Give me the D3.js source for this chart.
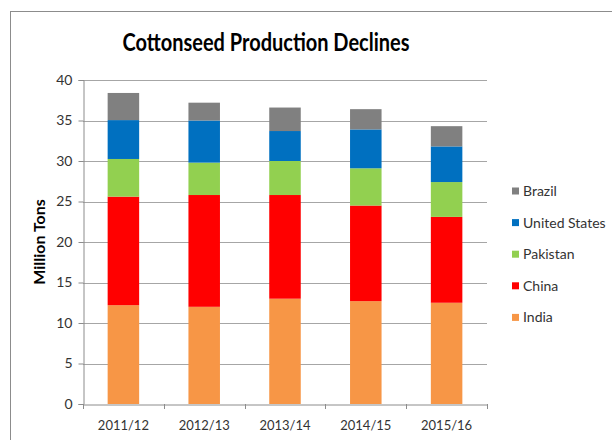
<!DOCTYPE html>
<html><head><meta charset="utf-8">
<script src="https://cdn.jsdelivr.net/npm/d3@7"></script>
<style>body{margin:0;background:#fff;} svg{display:block;}</style>
</head><body>
<svg id="c" width="612" height="440"></svg>
<script>
const categories = ["2011/12","2012/13","2013/14","2014/15","2015/16"];
const seriesNames = ["India","China","Pakistan","United States","Brazil"];
const india    = [12.2, 12.0, 13.0, 12.7, 12.5];
const china    = [13.4, 13.8, 12.8, 11.8, 10.6];
const pakistan = [4.65, 4.0, 4.2, 4.6, 4.3];
const usa      = [4.8, 5.2, 3.7, 4.8, 4.4];
const brazil   = [3.35, 2.2, 2.9, 2.5, 2.5];
const colors = ["#F79646","#FF0000","#92D050","#0070C0","#808080"];
const yTicks = [0,5,10,15,20,25,30,35,40];
const title = "Cottonseed Production Declines";
const yLabel = "Million Tons";

const rows = categories.map((c,i)=>({cat:c, "India":india[i], "China":china[i], "Pakistan":pakistan[i], "United States":usa[i], "Brazil":brazil[i]}));
const stacked = d3.stack().keys(seriesNames)(rows);

const svg = d3.select("#c");
const font = "Lato, 'Open Sans', sans-serif";
// outer border
svg.append("rect").attr("x",10.5).attr("y",11.5).attr("width",640).attr("height",460)
  .attr("fill","#fff").attr("stroke","#8c8c8c").attr("stroke-width",1);

const L=83, R=487, T=80, B=404;
const x = d3.scaleBand().domain(categories).range([L,R]).paddingInner(0.61).paddingOuter(0.305);
const y = d3.scaleLinear().domain([0,40]).range([B,T]);

// gridlines
svg.append("g").selectAll("line").data(yTicks.filter(d=>d>0)).join("line")
  .attr("x1",L).attr("x2",R).attr("y1",d=>Math.round(y(d))+0.5).attr("y2",d=>Math.round(y(d))+0.5)
  .attr("stroke","#a6a6a6").attr("stroke-width",1);

// bars
svg.append("g").selectAll("g").data(stacked).join("g")
  .attr("fill",(d,i)=>colors[i])
  .selectAll("rect").data(d=>d).join("rect")
  .attr("x",d=>x(d.data.cat)).attr("width",x.bandwidth())
  .attr("y",d=>y(d[1])).attr("height",d=>y(d[0])-y(d[1]));

// y axis
const ya = svg.append("g").attr("transform",`translate(${L+0.5},0)`)
  .call(d3.axisLeft(y).tickValues(yTicks).tickSize(5).tickPadding(6));
ya.selectAll("line,path").attr("stroke","#8c8c8c");
ya.selectAll("text").attr("font-family",font).attr("font-size",14).attr("fill","#333");

// x axis
const xa = svg.append("g").attr("transform",`translate(0,${B+0.5})`)
  .call(d3.axisBottom(x).tickSize(0).tickPadding(16));
xa.select("path").attr("stroke","#8c8c8c");
xa.selectAll("text").attr("font-family",font).attr("font-size",13).attr("fill","#333");
// boundary ticks
const bounds = d3.range(categories.length+1).map(i=>L+i*(R-L)/categories.length);
svg.append("g").selectAll("line").data(bounds).join("line")
  .attr("x1",d=>Math.round(d)+0.5).attr("x2",d=>Math.round(d)+0.5).attr("y1",B).attr("y2",B+5)
  .attr("stroke","#8c8c8c");

// title
svg.append("text").attr("x",266).attr("y",51).attr("text-anchor","middle")
  .attr("font-family",font).attr("font-weight","bold").attr("font-size",25)
  .attr("textLength",287).attr("lengthAdjust","spacingAndGlyphs")
  .attr("fill","#000").text(title);

// y label
svg.append("text").attr("transform","translate(45,242) rotate(-90)").attr("text-anchor","middle")
  .attr("font-family",font).attr("font-weight","bold").attr("font-size",16).attr("fill","#000").text(yLabel);

// legend (reverse order)
const leg = svg.append("g");
const legItems = seriesNames.map((n,i)=>({n,c:colors[i]})).reverse();
legItems.forEach((d,i)=>{
  const cy = 191 + i*31.6;
  leg.append("rect").attr("x",512).attr("y",cy-3.5).attr("width",7).attr("height",7).attr("fill",d.c);
  leg.append("text").attr("x",523).attr("y",cy).attr("dy","0.35em")
    .attr("font-family",font).attr("font-size",14).attr("fill","#333").text(d.n);
});
</script>
</body></html>
